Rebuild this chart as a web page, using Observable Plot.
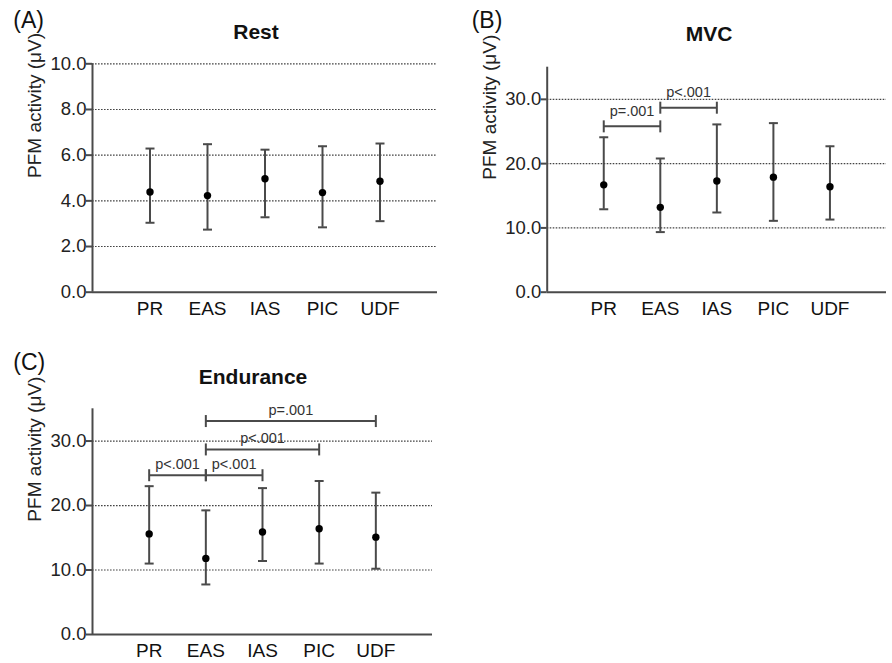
<!DOCTYPE html>
<html><head><meta charset="utf-8">
<script src="https://cdn.jsdelivr.net/npm/d3@7"></script>
<script src="https://cdn.jsdelivr.net/npm/@observablehq/plot@0.6"></script>
<style>
body{margin:0;background:#fff;}
#root{position:relative;width:892px;height:663px;overflow:hidden;font-family:"Liberation Sans",Arial,sans-serif;background:#fff;}
.pan{position:absolute;}
.lbl{position:absolute;white-space:nowrap;line-height:1;color:#111;}
</style></head><body><div id="root"></div>
<script>
// ---------- data ----------
const categories = ["PR", "EAS", "IAS", "PIC", "UDF"];

const restMean  = [4.39, 4.23, 4.97, 4.36, 4.86];
const restLower = [3.04, 2.74, 3.28, 2.84, 3.11];
const restUpper = [6.29, 6.48, 6.24, 6.39, 6.51];

const mvcMean  = [16.7, 13.2, 17.3, 17.9, 16.4];
const mvcLower = [12.9, 9.35, 12.4, 11.1, 11.3];
const mvcUpper = [24.1, 20.8, 26.1, 26.3, 22.7];

const endMean  = [15.6, 11.8, 15.9, 16.4, 15.1];
const endLower = [11.0, 7.76, 11.4, 11.0, 10.2];
const endUpper = [23.0, 19.25, 22.7, 23.8, 22.0];

const restTicks = [0, 2, 4, 6, 8, 10];
const restGrid  = [2, 4, 6, 8, 10];
const mvcTicks  = [0, 10, 20, 30];
const mvcGrid   = [10, 20, 30];
const endTicks  = [0, 10, 20, 30];
const endGrid   = [10, 20, 30];

const mvcBrackets = [
  {from: "PR",  to: "EAS", level: 25.8, label: "p=.001"},
  {from: "EAS", to: "IAS", level: 28.7, label: "p<.001"}
];
const endBrackets = [
  {from: "PR",  to: "EAS", level: 24.7, label: "p<.001"},
  {from: "EAS", to: "IAS", level: 24.7, label: "p<.001"},
  {from: "EAS", to: "PIC", level: 28.7, label: "p<.001"},
  {from: "EAS", to: "UDF", level: 33.1, label: "p=.001"}
];
const yLabel = "PFM activity (\u03BCV)";

// ---------- drawing ----------
const FONT = '"Liberation Sans", Arial, sans-serif';
const root = document.getElementById("root");
const capSym = {draw(ctx) { ctx.moveTo(-4.5, 0); ctx.lineTo(4.5, 0); }};
const endSym = {draw(ctx) { ctx.moveTo(0, -6); ctx.lineTo(0, 6); }};

function panel(cfg) {
  const rows = categories.map((c, i) => ({cat: c, pos: i + 1, mean: cfg.mean[i], lo: cfg.lower[i], hi: cfg.upper[i]}));
  const br = cfg.brackets.map(b => ({
    x1: categories.indexOf(b.from) + 1,
    x2: categories.indexOf(b.to) + 1,
    level: b.level, label: b.label
  }));
  const lineCol = "#4a4a4a";
  const chart = Plot.plot({
    width: cfg.width, height: cfg.height,
    marginLeft: cfg.mL, marginRight: cfg.mR, marginTop: cfg.mT, marginBottom: cfg.mB,
    style: {fontFamily: FONT, fontSize: "18px", background: "transparent", overflow: "visible"},
    x: {type: "linear", domain: [0, categories.length + 1]},
    y: {domain: [0, cfg.ymax]},
    marks: [
      Plot.ruleY(cfg.grid, {stroke: "#444", strokeWidth: 1.2, strokeDasharray: "1.6,1.4"}),
      Plot.ruleX(rows, {x: "pos", y1: "lo", y2: "hi", stroke: lineCol, strokeWidth: 2}),
      Plot.dot(rows, {x: "pos", y: "lo", symbol: capSym, stroke: lineCol, strokeWidth: 2, fill: "none"}),
      Plot.dot(rows, {x: "pos", y: "hi", symbol: capSym, stroke: lineCol, strokeWidth: 2, fill: "none"}),
      Plot.dot(rows, {x: "pos", y: "mean", r: 3.7, fill: "#000", stroke: "none"}),
      Plot.link(br, {x1: "x1", x2: "x2", y1: "level", y2: "level", stroke: lineCol, strokeWidth: 2}),
      Plot.dot(br, {x: "x1", y: "level", symbol: endSym, stroke: lineCol, strokeWidth: 2, fill: "none"}),
      Plot.dot(br, {x: "x2", y: "level", symbol: endSym, stroke: lineCol, strokeWidth: 2, fill: "none"}),
      Plot.text(br, {x: d => (d.x1 + d.x2) / 2, y: "level", text: "label", fontSize: 14.5, fill: "#333", dy: cfg.pDy}),
      Plot.ruleX([0], {stroke: lineCol, strokeWidth: 2}),
      Plot.ruleY([0], {stroke: lineCol, strokeWidth: 2}),
      Plot.axisY({ticks: cfg.ticks, tickFormat: d => d.toFixed(1), tickSize: 6, tickPadding: 0,
                  fontSize: 18.5, label: null, stroke: lineCol, strokeWidth: 2, fill: "#222"}),
      Plot.axisX({ticks: categories.map((c, i) => i + 1), tickFormat: i => categories[i - 1],
                  tickSize: 0, tickPadding: 9, fontSize: 19, label: null, fill: "#111"}),
      Plot.text([yLabel], {frameAnchor: "left", rotate: -90, dx: -57.3, fontSize: 19, fill: "#222"})
    ]
  });
  const div = document.createElement("div");
  div.className = "pan";
  div.style.left = cfg.left + "px";
  div.style.top = cfg.top + "px";
  div.appendChild(chart);
  root.appendChild(div);
}

function label(text, x, baseline, size, weight, center) {
  const d = document.createElement("div");
  d.className = "lbl";
  d.textContent = text;
  d.style.fontSize = size + "px";
  d.style.fontWeight = weight;
  d.style.left = x + "px";
  d.style.top = (baseline - 0.8465 * size) + "px";
  if (center) d.style.transform = "translateX(-50%)";
  root.appendChild(d);
}

panel({mean: restMean, lower: restLower, upper: restUpper, ticks: restTicks, grid: restGrid, ymax: 10,
       brackets: [], pDy: -11, left: 0, top: 0, width: 446, height: 325, mL: 92, mR: 9, mT: 63.3, mB: 33.3});
panel({mean: mvcMean, lower: mvcLower, upper: mvcUpper, ticks: mvcTicks, grid: mvcGrid, ymax: 35,
       brackets: mvcBrackets, pDy: -15, left: 446, top: 0, width: 446, height: 325, mL: 100.7, mR: 6, mT: 66.7, mB: 33.3});
panel({mean: endMean, lower: endLower, upper: endUpper, ticks: endTicks, grid: endGrid, ymax: 35,
       brackets: endBrackets, pDy: -11, left: 0, top: 340, width: 446, height: 323, mL: 92, mR: 14, mT: 68.3, mB: 29});

label("Rest", 256, 38.3, 21, "bold", true);
label("MVC", 709, 41, 21, "bold", true);
label("Endurance", 253, 383.3, 21, "bold", true);
label("(A)", 13.3, 28.5, 23, "normal", false);
label("(B)", 471.7, 28.3, 23, "normal", false);
label("(C)", 13.3, 370, 23, "normal", false);
</script></body></html>
